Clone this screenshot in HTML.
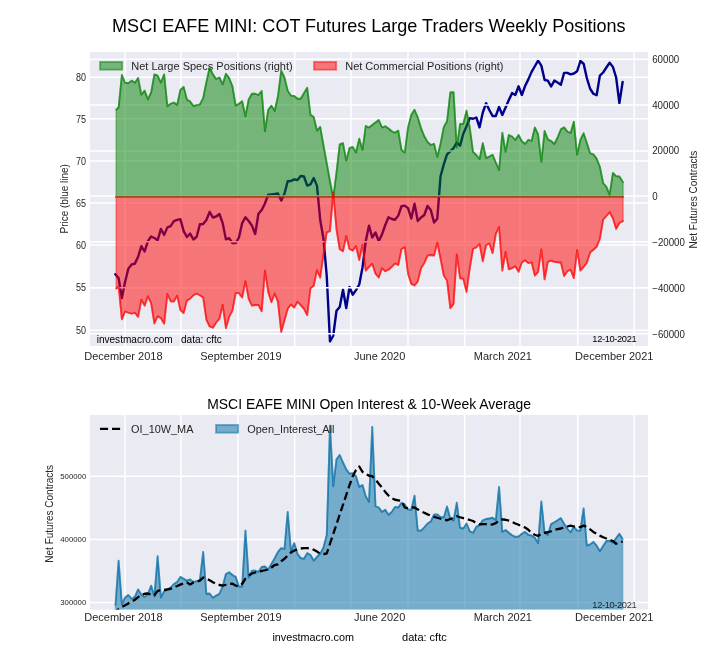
<!DOCTYPE html>
<html lang="en"><head><meta charset="utf-8"><title>MSCI EAFE MINI: COT Futures Large Traders Weekly Positions</title>
<style>html,body{margin:0;padding:0;background:#fff}body{width:720px;height:660px;overflow:hidden}svg{display:block}text{font-family:"Liberation Sans",Arial,Helvetica,sans-serif;fill:#262626}.k{fill:#000}</style>
</head><body>
<svg width="720" height="660" viewBox="0 0 720 660">
<defs><clipPath id="c1"><rect x="90" y="52" width="558" height="294"/></clipPath><clipPath id="c2"><rect x="90" y="415" width="558" height="194.6"/></clipPath></defs>
<rect width="720" height="660" fill="#fff"/>
<text class="k" x="368.8" y="32.3" font-size="18.05" text-anchor="middle">MSCI EAFE MINI: COT Futures Large Traders Weekly Positions</text>
<rect x="90" y="52" width="558" height="294" fill="#EAEAF2"/>
<g clip-path="url(#c1)">
<g stroke="#fff" stroke-width="1.5" fill="none">
<line x1="125.1" y1="52" x2="125.1" y2="346"/>
<line x1="180.9" y1="52" x2="180.9" y2="346"/>
<line x1="238" y1="52" x2="238" y2="346"/>
<line x1="294.7" y1="52" x2="294.7" y2="346"/>
<line x1="350.9" y1="52" x2="350.9" y2="346"/>
<line x1="408" y1="52" x2="408" y2="346"/>
<line x1="464.8" y1="52" x2="464.8" y2="346"/>
<line x1="520" y1="52" x2="520" y2="346"/>
<line x1="577.7" y1="52" x2="577.7" y2="346"/>
<line x1="634.2" y1="52" x2="634.2" y2="346"/>
<line x1="90" y1="77.3" x2="648" y2="77.3"/>
<line x1="90" y1="118.8" x2="648" y2="118.8"/>
<line x1="90" y1="161.1" x2="648" y2="161.1"/>
<line x1="90" y1="203.1" x2="648" y2="203.1"/>
<line x1="90" y1="245" x2="648" y2="245"/>
<line x1="90" y1="287.7" x2="648" y2="287.7"/>
<line x1="90" y1="330.2" x2="648" y2="330.2"/>
</g>
<polyline points="115.36,274.25 118.61,278.25 121.86,298 125.12,281.75 128.37,268.62 131.62,264.5 134.87,263.62 138.12,256.75 141.37,246.12 144.63,251.5 147.88,241.12 151.13,236.5 154.38,238 157.63,240.25 160.89,229 164.14,234.88 167.39,227.38 170.64,226.12 173.89,221.12 177.14,219.88 180.4,219.25 183.65,231.12 186.9,237 190.15,233.62 193.4,239.5 196.66,236.75 199.91,224.25 203.16,224 206.41,220 209.66,211.88 212.91,217.5 216.17,216.5 219.42,214 222.67,223.12 225.92,239.38 229.17,238.12 232.42,243.12 235.68,243.12 238.93,237.5 242.18,223.12 245.43,217.25 248.68,221 251.94,225.62 255.19,234 258.44,213.75 261.69,210 264.94,203.5 268.19,194.75 271.45,194.38 274.7,194 277.95,193.5 281.2,200.62 284.45,193.75 287.71,181.25 290.96,181 294.21,179.38 297.46,180 300.71,176 303.96,176.5 307.22,185.62 310.47,184.38 313.72,178.12 316.97,185.62 320.22,220 323.48,238.75 326.73,275.75 329.98,341.38 333.23,335.75 336.48,310.75 339.73,307 342.99,289.75 346.24,308 349.49,287 352.74,294.75 355.99,290.12 359.25,284.5 362.5,267.5 365.75,241.25 369,225.62 372.25,237.5 375.5,232.5 378.76,241.25 382.01,234.38 385.26,225 388.51,217.25 391.76,219 395.01,219.75 398.27,215.62 401.52,206.25 404.77,205.62 408.02,208.12 411.27,218.5 414.53,203.75 417.78,221 421.03,217.5 424.28,215 427.53,206 430.78,210 434.04,222.5 437.29,218.75 440.54,176.25 443.79,164.38 447.04,154.38 450.3,151.25 453.55,148.12 456.8,142.5 460.05,145.62 463.3,133.75 466.55,126.25 469.81,118.12 473.06,118.75 476.31,117.5 479.56,127.25 482.81,112.5 486.07,103.12 489.32,110 492.57,116 495.82,116 499.07,106.88 502.32,115 505.58,107.5 508.83,100 512.08,93.12 515.33,95 518.58,86.25 521.83,95 525.09,86 528.34,79.38 531.59,71.88 534.84,66.25 538.09,60.62 541.35,65.62 544.6,80 547.85,80.62 551.1,86.5 554.35,80.62 557.6,82.5 560.86,84.75 564.11,72.88 567.36,72.88 570.61,74.38 573.86,73.5 577.12,71.25 580.37,61 583.62,63.75 586.87,78.12 590.12,88.75 593.37,93.75 596.63,95.25 599.88,75.62 603.13,72.5 606.38,67.5 609.63,62.75 612.89,66.88 616.14,77.5 619.39,103.12 622.64,82" fill="none" stroke="#00008B" stroke-width="2.4" stroke-linejoin="round" stroke-linecap="round"/>
<g stroke="#fff" stroke-width="1.5" fill="none">
<line x1="90" y1="59.2" x2="648" y2="59.2"/>
<line x1="90" y1="105" x2="648" y2="105"/>
<line x1="90" y1="151" x2="648" y2="151"/>
<line x1="90" y1="195.9" x2="648" y2="195.9"/>
<line x1="90" y1="241.8" x2="648" y2="241.8"/>
<line x1="90" y1="287.7" x2="648" y2="287.7"/>
<line x1="90" y1="333.8" x2="648" y2="333.8"/>
</g>
</g>
<rect x="100" y="61.9" width="22.2" height="7.8" fill="#008000" fill-opacity="0.5" stroke="#008000" stroke-opacity="0.5" stroke-width="1.8"/>
<text x="131.3" y="69.6" font-size="11">Net Large Specs Positions (right)</text>
<rect x="314" y="61.9" width="22.2" height="7.8" fill="#ff0000" fill-opacity="0.5" stroke="#ff0000" stroke-opacity="0.5" stroke-width="1.8"/>
<text x="345.2" y="69.6" font-size="11">Net Commercial Positions (right)</text>
<g clip-path="url(#c1)">
<polyline points="116.1,109.75 118.61,107.5 121.86,75 125.12,82.75 128.37,83.12 131.62,80.62 134.87,82.75 138.12,77.88 141.37,94.75 144.63,90.62 147.88,99.38 151.13,92.5 154.38,74.38 157.63,75.62 160.89,82.75 164.14,74.38 167.39,106.25 170.64,103.75 173.89,102.5 177.14,105 180.4,90 183.65,86.88 186.9,99.38 190.15,101.5 193.4,106 196.66,105.25 199.91,104.38 203.16,98.12 206.41,81.88 209.66,67.5 212.91,74.38 216.17,79 219.42,77.5 222.67,84.38 225.92,73.75 229.17,78.12 232.42,86.25 235.68,105.62 238.93,103.75 242.18,101.25 245.43,116.25 248.68,99.38 251.94,93.75 255.19,93.75 258.44,95 261.69,91 264.94,131.25 268.19,110 271.45,105.62 274.7,111 277.95,96.25 281.2,70.62 284.45,77.5 287.71,90.62 290.96,95.62 294.21,96 297.46,98.75 300.71,98.75 303.96,93.12 307.22,87.75 310.47,114.75 313.72,116.88 316.97,130.62 320.22,126.88 323.48,145.25 326.73,163.12 329.98,181.25 333.23,198 336.48,172.5 339.73,144.38 342.99,143.12 346.24,160.62 349.49,148.12 352.74,146.88 355.99,152.5 359.25,138.75 362.5,150 365.75,126 369,127.5 372.25,125 375.5,122.5 378.76,120 382.01,127.5 385.26,126.25 388.51,128.5 391.76,131.25 395.01,132.75 398.27,130.62 401.52,150 404.77,152.5 408.02,127.5 411.27,115 414.53,109.75 417.78,117.5 421.03,128.12 424.28,136.25 427.53,141.88 430.78,145 434.04,143.75 437.29,156.88 440.54,143.75 443.79,126.88 447.04,121.25 450.3,92.5 453.55,92.25 456.8,147.5 460.05,124 463.3,123.75 466.55,110.62 469.81,128 473.06,151.88 476.31,155 479.56,159 482.81,143.12 486.07,158.12 489.32,156.5 492.57,154.75 495.82,162.5 499.07,170 502.32,132.75 505.58,151.88 508.83,135 512.08,136.5 515.33,140 518.58,135 521.83,141.25 525.09,144 528.34,139.75 531.59,141 534.84,127.5 538.09,134.38 541.35,161.88 544.6,131 547.85,139.38 551.1,141 554.35,144 557.6,137.5 560.86,129.38 564.11,127.38 567.36,131.5 570.61,133 573.86,121.75 577.12,154.88 580.37,139.88 583.62,133.25 586.87,143 590.12,153.25 593.37,154.25 596.63,158.62 599.88,166.75 603.13,183 606.38,186.75 609.63,194.88 612.89,173 616.14,176.12 619.39,176.5 623.15,182.38" fill="none" stroke="#008000" stroke-opacity="0.5" stroke-width="1.8" stroke-linejoin="round" stroke-linecap="round"/>
<polygon points="116.1,109.75 118.61,107.5 121.86,75 125.12,82.75 128.37,83.12 131.62,80.62 134.87,82.75 138.12,77.88 141.37,94.75 144.63,90.62 147.88,99.38 151.13,92.5 154.38,74.38 157.63,75.62 160.89,82.75 164.14,74.38 167.39,106.25 170.64,103.75 173.89,102.5 177.14,105 180.4,90 183.65,86.88 186.9,99.38 190.15,101.5 193.4,106 196.66,105.25 199.91,104.38 203.16,98.12 206.41,81.88 209.66,67.5 212.91,74.38 216.17,79 219.42,77.5 222.67,84.38 225.92,73.75 229.17,78.12 232.42,86.25 235.68,105.62 238.93,103.75 242.18,101.25 245.43,116.25 248.68,99.38 251.94,93.75 255.19,93.75 258.44,95 261.69,91 264.94,131.25 268.19,110 271.45,105.62 274.7,111 277.95,96.25 281.2,70.62 284.45,77.5 287.71,90.62 290.96,95.62 294.21,96 297.46,98.75 300.71,98.75 303.96,93.12 307.22,87.75 310.47,114.75 313.72,116.88 316.97,130.62 320.22,126.88 323.48,145.25 326.73,163.12 329.98,181.25 333.23,198 336.48,172.5 339.73,144.38 342.99,143.12 346.24,160.62 349.49,148.12 352.74,146.88 355.99,152.5 359.25,138.75 362.5,150 365.75,126 369,127.5 372.25,125 375.5,122.5 378.76,120 382.01,127.5 385.26,126.25 388.51,128.5 391.76,131.25 395.01,132.75 398.27,130.62 401.52,150 404.77,152.5 408.02,127.5 411.27,115 414.53,109.75 417.78,117.5 421.03,128.12 424.28,136.25 427.53,141.88 430.78,145 434.04,143.75 437.29,156.88 440.54,143.75 443.79,126.88 447.04,121.25 450.3,92.5 453.55,92.25 456.8,147.5 460.05,124 463.3,123.75 466.55,110.62 469.81,128 473.06,151.88 476.31,155 479.56,159 482.81,143.12 486.07,158.12 489.32,156.5 492.57,154.75 495.82,162.5 499.07,170 502.32,132.75 505.58,151.88 508.83,135 512.08,136.5 515.33,140 518.58,135 521.83,141.25 525.09,144 528.34,139.75 531.59,141 534.84,127.5 538.09,134.38 541.35,161.88 544.6,131 547.85,139.38 551.1,141 554.35,144 557.6,137.5 560.86,129.38 564.11,127.38 567.36,131.5 570.61,133 573.86,121.75 577.12,154.88 580.37,139.88 583.62,133.25 586.87,143 590.12,153.25 593.37,154.25 596.63,158.62 599.88,166.75 603.13,183 606.38,186.75 609.63,194.88 612.89,173 616.14,176.12 619.39,176.5 623.15,182.38 623.15,196.9 116.1,196.9" fill="#008000" fill-opacity="0.5"/>
<polyline points="116.1,109.75 118.61,107.5 121.86,75 125.12,82.75 128.37,83.12 131.62,80.62 134.87,82.75 138.12,77.88 141.37,94.75 144.63,90.62 147.88,99.38 151.13,92.5 154.38,74.38 157.63,75.62 160.89,82.75 164.14,74.38 167.39,106.25 170.64,103.75 173.89,102.5 177.14,105 180.4,90 183.65,86.88 186.9,99.38 190.15,101.5 193.4,106 196.66,105.25 199.91,104.38 203.16,98.12 206.41,81.88 209.66,67.5 212.91,74.38 216.17,79 219.42,77.5 222.67,84.38 225.92,73.75 229.17,78.12 232.42,86.25 235.68,105.62 238.93,103.75 242.18,101.25 245.43,116.25 248.68,99.38 251.94,93.75 255.19,93.75 258.44,95 261.69,91 264.94,131.25 268.19,110 271.45,105.62 274.7,111 277.95,96.25 281.2,70.62 284.45,77.5 287.71,90.62 290.96,95.62 294.21,96 297.46,98.75 300.71,98.75 303.96,93.12 307.22,87.75 310.47,114.75 313.72,116.88 316.97,130.62 320.22,126.88 323.48,145.25 326.73,163.12 329.98,181.25 333.23,198 336.48,172.5 339.73,144.38 342.99,143.12 346.24,160.62 349.49,148.12 352.74,146.88 355.99,152.5 359.25,138.75 362.5,150 365.75,126 369,127.5 372.25,125 375.5,122.5 378.76,120 382.01,127.5 385.26,126.25 388.51,128.5 391.76,131.25 395.01,132.75 398.27,130.62 401.52,150 404.77,152.5 408.02,127.5 411.27,115 414.53,109.75 417.78,117.5 421.03,128.12 424.28,136.25 427.53,141.88 430.78,145 434.04,143.75 437.29,156.88 440.54,143.75 443.79,126.88 447.04,121.25 450.3,92.5 453.55,92.25 456.8,147.5 460.05,124 463.3,123.75 466.55,110.62 469.81,128 473.06,151.88 476.31,155 479.56,159 482.81,143.12 486.07,158.12 489.32,156.5 492.57,154.75 495.82,162.5 499.07,170 502.32,132.75 505.58,151.88 508.83,135 512.08,136.5 515.33,140 518.58,135 521.83,141.25 525.09,144 528.34,139.75 531.59,141 534.84,127.5 538.09,134.38 541.35,161.88 544.6,131 547.85,139.38 551.1,141 554.35,144 557.6,137.5 560.86,129.38 564.11,127.38 567.36,131.5 570.61,133 573.86,121.75 577.12,154.88 580.37,139.88 583.62,133.25 586.87,143 590.12,153.25 593.37,154.25 596.63,158.62 599.88,166.75 603.13,183 606.38,186.75 609.63,194.88 612.89,173 616.14,176.12 619.39,176.5 623.15,182.38" fill="none" stroke="#008000" stroke-opacity="0.5" stroke-width="1.8" stroke-linejoin="round" stroke-linecap="butt"/>
<path d="M116.1 109.75V196.9M623.15 182.38V196.9" fill="none" stroke="#008000" stroke-opacity="0.3" stroke-width="1.8"/>
<line x1="116.1" y1="196.9" x2="623.15" y2="196.9" stroke="#008000" stroke-opacity="0.5" stroke-width="1.8" stroke-linecap="square"/>
<polyline points="116.1,288.75 118.61,286.5 121.86,319.38 125.12,311.5 128.37,312.75 131.62,313.75 134.87,312.75 138.12,316.88 141.37,299.75 144.63,305.62 147.88,296.25 151.13,303.12 154.38,323.5 157.63,316.25 160.89,318.12 164.14,323.75 167.39,294 170.64,301.25 173.89,301.5 177.14,295.62 180.4,310 183.65,313.12 186.9,300.62 190.15,298.75 193.4,295.25 196.66,293.75 199.91,295.25 203.16,297.5 206.41,319.75 209.66,326.5 212.91,327.75 216.17,322.5 219.42,318.75 222.67,304.75 225.92,328.12 229.17,316.88 232.42,310.62 235.68,293.12 238.93,293.12 242.18,297.5 245.43,281.25 248.68,298.75 251.94,305.62 255.19,305 258.44,305 261.69,311.25 264.94,270.62 268.19,291.88 271.45,302.25 274.7,293.5 277.95,301.88 281.2,331.88 284.45,320.62 287.71,308.75 290.96,304.5 294.21,307.62 297.46,301.75 300.71,305.12 303.96,308.88 307.22,315.12 310.47,288.25 313.72,285.75 316.97,270.12 320.22,277.62 323.48,254.25 326.73,232.38 329.98,231.12 333.23,192.38 336.48,229.25 339.73,249.25 342.99,251.25 346.24,236 349.49,249 352.74,250.62 355.99,246 359.25,260 362.5,244.75 365.75,270.62 369,266.88 372.25,263.75 375.5,273.75 378.76,277.5 382.01,268.12 385.26,271.25 388.51,269.75 391.76,266.88 395.01,263.5 398.27,265 401.52,249 404.77,247.25 408.02,273.75 411.27,283.88 414.53,285.5 417.78,281.38 421.03,268.25 424.28,263.12 427.53,255.62 430.78,255 434.04,255.62 437.29,242.5 440.54,258.75 443.79,275.62 447.04,280.62 450.3,308.25 453.55,303.88 456.8,254.38 460.05,278.25 463.3,278.88 466.55,292 469.81,268 473.06,248.75 476.31,247.5 479.56,244 482.81,261.25 486.07,245.25 489.32,243.5 492.57,253.12 495.82,233.75 499.07,226.88 502.32,270.62 505.58,251.88 508.83,269.38 512.08,268.12 515.33,266.25 518.58,271.88 521.83,262.5 525.09,260.25 528.34,263.12 531.59,262.25 534.84,275.62 538.09,271.88 541.35,249.38 544.6,279.38 547.85,261.88 551.1,260.62 554.35,261.88 557.6,262.25 560.86,262.5 564.11,276 567.36,271.25 570.61,269.75 573.86,278.12 577.12,250 580.37,270.62 583.62,266.88 586.87,262.75 590.12,252.5 593.37,249.75 596.63,246.88 599.88,238.75 603.13,219.75 606.38,216 609.63,212.25 612.89,218.25 616.14,228.88 619.39,223 623.15,221" fill="none" stroke="#ff0000" stroke-opacity="0.5" stroke-width="1.8" stroke-linejoin="round" stroke-linecap="round"/>
<polygon points="116.1,288.75 118.61,286.5 121.86,319.38 125.12,311.5 128.37,312.75 131.62,313.75 134.87,312.75 138.12,316.88 141.37,299.75 144.63,305.62 147.88,296.25 151.13,303.12 154.38,323.5 157.63,316.25 160.89,318.12 164.14,323.75 167.39,294 170.64,301.25 173.89,301.5 177.14,295.62 180.4,310 183.65,313.12 186.9,300.62 190.15,298.75 193.4,295.25 196.66,293.75 199.91,295.25 203.16,297.5 206.41,319.75 209.66,326.5 212.91,327.75 216.17,322.5 219.42,318.75 222.67,304.75 225.92,328.12 229.17,316.88 232.42,310.62 235.68,293.12 238.93,293.12 242.18,297.5 245.43,281.25 248.68,298.75 251.94,305.62 255.19,305 258.44,305 261.69,311.25 264.94,270.62 268.19,291.88 271.45,302.25 274.7,293.5 277.95,301.88 281.2,331.88 284.45,320.62 287.71,308.75 290.96,304.5 294.21,307.62 297.46,301.75 300.71,305.12 303.96,308.88 307.22,315.12 310.47,288.25 313.72,285.75 316.97,270.12 320.22,277.62 323.48,254.25 326.73,232.38 329.98,231.12 333.23,192.38 336.48,229.25 339.73,249.25 342.99,251.25 346.24,236 349.49,249 352.74,250.62 355.99,246 359.25,260 362.5,244.75 365.75,270.62 369,266.88 372.25,263.75 375.5,273.75 378.76,277.5 382.01,268.12 385.26,271.25 388.51,269.75 391.76,266.88 395.01,263.5 398.27,265 401.52,249 404.77,247.25 408.02,273.75 411.27,283.88 414.53,285.5 417.78,281.38 421.03,268.25 424.28,263.12 427.53,255.62 430.78,255 434.04,255.62 437.29,242.5 440.54,258.75 443.79,275.62 447.04,280.62 450.3,308.25 453.55,303.88 456.8,254.38 460.05,278.25 463.3,278.88 466.55,292 469.81,268 473.06,248.75 476.31,247.5 479.56,244 482.81,261.25 486.07,245.25 489.32,243.5 492.57,253.12 495.82,233.75 499.07,226.88 502.32,270.62 505.58,251.88 508.83,269.38 512.08,268.12 515.33,266.25 518.58,271.88 521.83,262.5 525.09,260.25 528.34,263.12 531.59,262.25 534.84,275.62 538.09,271.88 541.35,249.38 544.6,279.38 547.85,261.88 551.1,260.62 554.35,261.88 557.6,262.25 560.86,262.5 564.11,276 567.36,271.25 570.61,269.75 573.86,278.12 577.12,250 580.37,270.62 583.62,266.88 586.87,262.75 590.12,252.5 593.37,249.75 596.63,246.88 599.88,238.75 603.13,219.75 606.38,216 609.63,212.25 612.89,218.25 616.14,228.88 619.39,223 623.15,221 623.15,196.9 116.1,196.9" fill="#ff0000" fill-opacity="0.5"/>
<polyline points="116.1,288.75 118.61,286.5 121.86,319.38 125.12,311.5 128.37,312.75 131.62,313.75 134.87,312.75 138.12,316.88 141.37,299.75 144.63,305.62 147.88,296.25 151.13,303.12 154.38,323.5 157.63,316.25 160.89,318.12 164.14,323.75 167.39,294 170.64,301.25 173.89,301.5 177.14,295.62 180.4,310 183.65,313.12 186.9,300.62 190.15,298.75 193.4,295.25 196.66,293.75 199.91,295.25 203.16,297.5 206.41,319.75 209.66,326.5 212.91,327.75 216.17,322.5 219.42,318.75 222.67,304.75 225.92,328.12 229.17,316.88 232.42,310.62 235.68,293.12 238.93,293.12 242.18,297.5 245.43,281.25 248.68,298.75 251.94,305.62 255.19,305 258.44,305 261.69,311.25 264.94,270.62 268.19,291.88 271.45,302.25 274.7,293.5 277.95,301.88 281.2,331.88 284.45,320.62 287.71,308.75 290.96,304.5 294.21,307.62 297.46,301.75 300.71,305.12 303.96,308.88 307.22,315.12 310.47,288.25 313.72,285.75 316.97,270.12 320.22,277.62 323.48,254.25 326.73,232.38 329.98,231.12 333.23,192.38 336.48,229.25 339.73,249.25 342.99,251.25 346.24,236 349.49,249 352.74,250.62 355.99,246 359.25,260 362.5,244.75 365.75,270.62 369,266.88 372.25,263.75 375.5,273.75 378.76,277.5 382.01,268.12 385.26,271.25 388.51,269.75 391.76,266.88 395.01,263.5 398.27,265 401.52,249 404.77,247.25 408.02,273.75 411.27,283.88 414.53,285.5 417.78,281.38 421.03,268.25 424.28,263.12 427.53,255.62 430.78,255 434.04,255.62 437.29,242.5 440.54,258.75 443.79,275.62 447.04,280.62 450.3,308.25 453.55,303.88 456.8,254.38 460.05,278.25 463.3,278.88 466.55,292 469.81,268 473.06,248.75 476.31,247.5 479.56,244 482.81,261.25 486.07,245.25 489.32,243.5 492.57,253.12 495.82,233.75 499.07,226.88 502.32,270.62 505.58,251.88 508.83,269.38 512.08,268.12 515.33,266.25 518.58,271.88 521.83,262.5 525.09,260.25 528.34,263.12 531.59,262.25 534.84,275.62 538.09,271.88 541.35,249.38 544.6,279.38 547.85,261.88 551.1,260.62 554.35,261.88 557.6,262.25 560.86,262.5 564.11,276 567.36,271.25 570.61,269.75 573.86,278.12 577.12,250 580.37,270.62 583.62,266.88 586.87,262.75 590.12,252.5 593.37,249.75 596.63,246.88 599.88,238.75 603.13,219.75 606.38,216 609.63,212.25 612.89,218.25 616.14,228.88 619.39,223 623.15,221" fill="none" stroke="#ff0000" stroke-opacity="0.5" stroke-width="1.8" stroke-linejoin="round" stroke-linecap="butt"/>
<path d="M116.1 288.75V196.9M623.15 221V196.9" fill="none" stroke="#ff0000" stroke-opacity="0.3" stroke-width="1.8"/>
<line x1="116.1" y1="196.9" x2="623.15" y2="196.9" stroke="#ff0000" stroke-opacity="0.5" stroke-width="1.8" stroke-linecap="square"/>
</g>
<text class="k" x="96.7" y="342.8" font-size="10.05" xml:space="preserve" style="white-space:pre">investmacro.com   data: cftc</text>
<text class="k" x="636.3" y="341.8" font-size="9.3" letter-spacing="-0.36" text-anchor="end">12-10-2021</text>
<text transform="translate(85.9,81) scale(0.9,1)" font-size="10" text-anchor="end">80</text>
<text transform="translate(85.9,122.5) scale(0.9,1)" font-size="10" text-anchor="end">75</text>
<text transform="translate(85.9,164.8) scale(0.9,1)" font-size="10" text-anchor="end">70</text>
<text transform="translate(85.9,206.8) scale(0.9,1)" font-size="10" text-anchor="end">65</text>
<text transform="translate(85.9,248.7) scale(0.9,1)" font-size="10" text-anchor="end">60</text>
<text transform="translate(85.9,291.4) scale(0.9,1)" font-size="10" text-anchor="end">55</text>
<text transform="translate(85.9,333.9) scale(0.9,1)" font-size="10" text-anchor="end">50</text>
<text transform="translate(652.2,62.6) scale(0.965,1)" font-size="10.1">60000</text>
<text transform="translate(652.2,108.5) scale(0.965,1)" font-size="10.1">40000</text>
<text transform="translate(652.2,154.4) scale(0.965,1)" font-size="10.1">20000</text>
<text transform="translate(652.2,200.3) scale(0.965,1)" font-size="10.1">0</text>
<text transform="translate(652.2,246.2) scale(0.965,1)" font-size="10.1">−20000</text>
<text transform="translate(652.2,292.1) scale(0.965,1)" font-size="10.1">−40000</text>
<text transform="translate(652.2,338) scale(0.965,1)" font-size="10.1">−60000</text>
<text x="123.4" y="360" font-size="11" text-anchor="middle">December 2018</text>
<text x="240.9" y="360" font-size="11" text-anchor="middle">September 2019</text>
<text x="379.6" y="360" font-size="11" text-anchor="middle">June 2020</text>
<text x="502.9" y="360" font-size="11" text-anchor="middle">March 2021</text>
<text x="614.25" y="360" font-size="11" text-anchor="middle">December 2021</text>
<text transform="translate(68.2,198.8) rotate(-90)" font-size="10" text-anchor="middle">Price (blue line)</text>
<text transform="translate(696.8,199.6) rotate(-90)" font-size="10" text-anchor="middle">Net Futures Contracts</text>
<text class="k" x="369.1" y="409.3" font-size="13.93" text-anchor="middle">MSCI EAFE MINI Open Interest &amp; 10-Week Average</text>
<rect x="90" y="415" width="558" height="194.6" fill="#EAEAF2"/>
<g clip-path="url(#c2)">
<g stroke="#fff" stroke-width="1.5" fill="none">
<line x1="125.1" y1="415" x2="125.1" y2="609.6"/>
<line x1="180.9" y1="415" x2="180.9" y2="609.6"/>
<line x1="238" y1="415" x2="238" y2="609.6"/>
<line x1="294.7" y1="415" x2="294.7" y2="609.6"/>
<line x1="350.9" y1="415" x2="350.9" y2="609.6"/>
<line x1="408" y1="415" x2="408" y2="609.6"/>
<line x1="464.8" y1="415" x2="464.8" y2="609.6"/>
<line x1="520" y1="415" x2="520" y2="609.6"/>
<line x1="577.7" y1="415" x2="577.7" y2="609.6"/>
<line x1="634.2" y1="415" x2="634.2" y2="609.6"/>
<line x1="90" y1="476.3" x2="648" y2="476.3"/>
<line x1="90" y1="539.4" x2="648" y2="539.4"/>
<line x1="90" y1="602.6" x2="648" y2="602.6"/>
</g>
<polyline points="115.5,605 118.61,560.62 121.86,604.38 125.12,597.5 128.37,595 131.62,598.75 134.87,596.88 138.12,589.38 141.37,594.75 144.63,596.88 147.88,594.38 151.13,585.62 154.38,596.25 157.63,556.25 160.89,597.5 164.14,591.25 167.39,590 170.64,587.5 173.89,584 177.14,581.88 180.4,576.88 183.65,578.75 186.9,580.62 190.15,579.38 193.4,581.88 196.66,581.25 199.91,579.75 203.16,551.88 206.41,594 209.66,593.5 212.91,597.75 216.17,595.62 219.42,593.75 222.67,586.25 225.92,574 229.17,572.25 232.42,575 235.68,576.88 238.93,586.5 242.18,586.5 245.43,530.6 248.68,577.5 251.94,570.62 255.19,570.62 258.44,571.88 261.69,566.88 264.94,566.5 268.19,569.75 271.45,563.75 274.7,558.12 277.95,551.88 281.2,548.12 284.45,549 287.71,511.88 290.96,551.25 294.21,543.12 297.46,553.75 300.71,558.12 303.96,558.75 307.22,553.12 310.47,555 313.72,560.62 316.97,556.88 320.22,553.75 323.48,547.5 326.73,535 329.98,425.62 333.23,486.25 336.48,459.38 339.73,455 342.99,462.5 346.24,469.38 349.49,473.75 352.74,473.12 355.99,476.25 359.25,486.88 362.5,485 365.75,496.25 369,501.88 372.25,426.9 375.5,506.25 378.76,507.5 382.01,511.88 385.26,509.75 388.51,514.75 391.76,511.88 395.01,506.88 398.27,507.5 401.52,502.75 404.77,504.38 408.02,509.38 411.27,510 414.53,495.62 417.78,530.62 421.03,530.62 424.28,527.25 427.53,523.5 430.78,521.5 434.04,514.75 437.29,514.38 440.54,516.88 443.79,517.5 447.04,506.5 450.3,518.75 453.55,520.62 456.8,502.75 460.05,527.75 463.3,528.5 466.55,523.5 469.81,531.25 473.06,532.75 476.31,526.88 479.56,525 482.81,520.25 486.07,519 489.32,518.5 492.57,517.75 495.82,520 499.07,486.88 502.32,531.88 505.58,530 508.83,532.75 512.08,535.25 515.33,536.88 518.58,536.5 521.83,533.75 525.09,531.88 528.34,534.75 531.59,535.62 534.84,537.75 538.09,543.12 541.35,501.5 544.6,532.75 547.85,535 551.1,524 554.35,522.25 557.6,520.25 560.86,518.12 564.11,523.75 567.36,528.75 570.61,532.25 573.86,526.88 577.12,530.62 580.37,530.62 583.62,508.5 586.87,545.62 590.12,544.38 593.37,541.88 596.63,545.62 599.88,551.25 603.13,546 606.38,541 609.63,540.62 612.89,542.5 616.14,538.12 619.39,533.75 622.6,539" fill="none" stroke="#006BA4" stroke-opacity="0.5" stroke-width="1.8" stroke-linejoin="round" stroke-linecap="round"/>
<polygon points="115.5,605 118.61,560.62 121.86,604.38 125.12,597.5 128.37,595 131.62,598.75 134.87,596.88 138.12,589.38 141.37,594.75 144.63,596.88 147.88,594.38 151.13,585.62 154.38,596.25 157.63,556.25 160.89,597.5 164.14,591.25 167.39,590 170.64,587.5 173.89,584 177.14,581.88 180.4,576.88 183.65,578.75 186.9,580.62 190.15,579.38 193.4,581.88 196.66,581.25 199.91,579.75 203.16,551.88 206.41,594 209.66,593.5 212.91,597.75 216.17,595.62 219.42,593.75 222.67,586.25 225.92,574 229.17,572.25 232.42,575 235.68,576.88 238.93,586.5 242.18,586.5 245.43,530.6 248.68,577.5 251.94,570.62 255.19,570.62 258.44,571.88 261.69,566.88 264.94,566.5 268.19,569.75 271.45,563.75 274.7,558.12 277.95,551.88 281.2,548.12 284.45,549 287.71,511.88 290.96,551.25 294.21,543.12 297.46,553.75 300.71,558.12 303.96,558.75 307.22,553.12 310.47,555 313.72,560.62 316.97,556.88 320.22,553.75 323.48,547.5 326.73,535 329.98,425.62 333.23,486.25 336.48,459.38 339.73,455 342.99,462.5 346.24,469.38 349.49,473.75 352.74,473.12 355.99,476.25 359.25,486.88 362.5,485 365.75,496.25 369,501.88 372.25,426.9 375.5,506.25 378.76,507.5 382.01,511.88 385.26,509.75 388.51,514.75 391.76,511.88 395.01,506.88 398.27,507.5 401.52,502.75 404.77,504.38 408.02,509.38 411.27,510 414.53,495.62 417.78,530.62 421.03,530.62 424.28,527.25 427.53,523.5 430.78,521.5 434.04,514.75 437.29,514.38 440.54,516.88 443.79,517.5 447.04,506.5 450.3,518.75 453.55,520.62 456.8,502.75 460.05,527.75 463.3,528.5 466.55,523.5 469.81,531.25 473.06,532.75 476.31,526.88 479.56,525 482.81,520.25 486.07,519 489.32,518.5 492.57,517.75 495.82,520 499.07,486.88 502.32,531.88 505.58,530 508.83,532.75 512.08,535.25 515.33,536.88 518.58,536.5 521.83,533.75 525.09,531.88 528.34,534.75 531.59,535.62 534.84,537.75 538.09,543.12 541.35,501.5 544.6,532.75 547.85,535 551.1,524 554.35,522.25 557.6,520.25 560.86,518.12 564.11,523.75 567.36,528.75 570.61,532.25 573.86,526.88 577.12,530.62 580.37,530.62 583.62,508.5 586.87,545.62 590.12,544.38 593.37,541.88 596.63,545.62 599.88,551.25 603.13,546 606.38,541 609.63,540.62 612.89,542.5 616.14,538.12 619.39,533.75 622.6,539 622.6,629.6 115.5,629.6" fill="#006BA4" fill-opacity="0.5"/>
<polyline points="115.5,605 118.61,560.62 121.86,604.38 125.12,597.5 128.37,595 131.62,598.75 134.87,596.88 138.12,589.38 141.37,594.75 144.63,596.88 147.88,594.38 151.13,585.62 154.38,596.25 157.63,556.25 160.89,597.5 164.14,591.25 167.39,590 170.64,587.5 173.89,584 177.14,581.88 180.4,576.88 183.65,578.75 186.9,580.62 190.15,579.38 193.4,581.88 196.66,581.25 199.91,579.75 203.16,551.88 206.41,594 209.66,593.5 212.91,597.75 216.17,595.62 219.42,593.75 222.67,586.25 225.92,574 229.17,572.25 232.42,575 235.68,576.88 238.93,586.5 242.18,586.5 245.43,530.6 248.68,577.5 251.94,570.62 255.19,570.62 258.44,571.88 261.69,566.88 264.94,566.5 268.19,569.75 271.45,563.75 274.7,558.12 277.95,551.88 281.2,548.12 284.45,549 287.71,511.88 290.96,551.25 294.21,543.12 297.46,553.75 300.71,558.12 303.96,558.75 307.22,553.12 310.47,555 313.72,560.62 316.97,556.88 320.22,553.75 323.48,547.5 326.73,535 329.98,425.62 333.23,486.25 336.48,459.38 339.73,455 342.99,462.5 346.24,469.38 349.49,473.75 352.74,473.12 355.99,476.25 359.25,486.88 362.5,485 365.75,496.25 369,501.88 372.25,426.9 375.5,506.25 378.76,507.5 382.01,511.88 385.26,509.75 388.51,514.75 391.76,511.88 395.01,506.88 398.27,507.5 401.52,502.75 404.77,504.38 408.02,509.38 411.27,510 414.53,495.62 417.78,530.62 421.03,530.62 424.28,527.25 427.53,523.5 430.78,521.5 434.04,514.75 437.29,514.38 440.54,516.88 443.79,517.5 447.04,506.5 450.3,518.75 453.55,520.62 456.8,502.75 460.05,527.75 463.3,528.5 466.55,523.5 469.81,531.25 473.06,532.75 476.31,526.88 479.56,525 482.81,520.25 486.07,519 489.32,518.5 492.57,517.75 495.82,520 499.07,486.88 502.32,531.88 505.58,530 508.83,532.75 512.08,535.25 515.33,536.88 518.58,536.5 521.83,533.75 525.09,531.88 528.34,534.75 531.59,535.62 534.84,537.75 538.09,543.12 541.35,501.5 544.6,532.75 547.85,535 551.1,524 554.35,522.25 557.6,520.25 560.86,518.12 564.11,523.75 567.36,528.75 570.61,532.25 573.86,526.88 577.12,530.62 580.37,530.62 583.62,508.5 586.87,545.62 590.12,544.38 593.37,541.88 596.63,545.62 599.88,551.25 603.13,546 606.38,541 609.63,540.62 612.89,542.5 616.14,538.12 619.39,533.75 622.6,539" fill="none" stroke="#006BA4" stroke-opacity="0.5" stroke-width="1.8" stroke-linejoin="round" stroke-linecap="butt"/>
<path d="M115.5 605V629.6M622.6 539V629.6" fill="none" stroke="#006BA4" stroke-opacity="0.3" stroke-width="1.8"/>
<line x1="115.5" y1="629.6" x2="622.6" y2="629.6" stroke="#006BA4" stroke-opacity="0.5" stroke-width="1.8" stroke-linecap="square"/>
<polyline points="115.36,611.5 118.61,609.12 121.86,607.12 125.12,605.25 128.37,603.38 131.62,601.75 134.87,599.75 138.12,597.12 141.37,594.75 144.63,593.75 147.88,593.5 151.13,594.75 154.38,595.25 157.63,590.88 160.89,590.38 164.14,590 167.39,589.38 170.64,588.75 173.89,587.25 177.14,586 180.4,584.62 183.65,583.5 186.9,582.5 190.15,584.38 193.4,582.5 196.66,581.88 199.91,580.62 203.16,577.5 206.41,578.75 209.66,580.25 212.91,582.25 216.17,583.75 219.42,585 222.67,585.62 225.92,584.75 229.17,583.75 232.42,583.75 235.68,585.62 238.93,586.25 242.18,583.75 245.43,578.75 248.68,575.62 251.94,573.5 255.19,572.5 258.44,571.5 261.69,571 264.94,570.25 268.19,569.38 271.45,567.5 274.7,565 277.95,564.38 281.2,561.25 284.45,558.75 287.71,555.62 290.96,552.5 294.21,550.62 297.46,549.38 300.71,548.5 303.96,548.12 307.22,548.12 310.47,548.75 313.72,549.75 316.97,551.5 320.22,553.75 323.48,554 326.73,553.5 329.98,543.75 333.23,534 336.48,524.25 339.73,514.5 342.99,504.75 346.24,495 349.49,485.25 352.74,476.25 355.99,470 359.25,466.5 362.5,471.88 365.75,474 369,475.62 372.25,476.25 375.5,479.38 378.76,483.75 382.01,487.5 385.26,491.88 388.51,495.62 391.76,498.12 395.01,499.75 398.27,500.38 401.52,501 404.77,507.5 408.02,508.5 411.27,507.5 414.53,507.5 417.78,509.38 421.03,511.25 424.28,512.75 427.53,514.38 430.78,515.62 434.04,516.88 437.29,517.75 440.54,518.75 443.79,519.75 447.04,520.25 450.3,519 453.55,517.75 456.8,516.25 460.05,517.25 463.3,518.12 466.55,519 469.81,520 473.06,521 476.31,523.12 479.56,524.38 482.81,524.12 486.07,524.12 489.32,524.75 492.57,524.38 495.82,523.12 499.07,520.25 502.32,519.38 505.58,519.75 508.83,520.62 512.08,521.88 515.33,523.5 518.58,524.75 521.83,526.25 525.09,527.5 528.34,529.75 531.59,533.12 534.84,534.75 538.09,536 541.35,533.5 544.6,532.75 547.85,532.25 551.1,531.25 554.35,530 557.6,529.12 560.86,528.5 564.11,527.25 567.36,526.5 570.61,525.62 573.86,526.5 577.12,527.12 580.37,527.12 583.62,525.62 586.87,526.88 590.12,529.38 593.37,531.88 596.63,533.75 599.88,535.62 603.13,537.25 606.38,538.5 609.63,539.75 612.89,541 616.14,543.75 619.39,542.5 622.64,541.5" fill="none" stroke="#000" stroke-width="2.3" stroke-dasharray="8.1 3.9" stroke-dashoffset="3.6" stroke-linejoin="round"/>
</g>
<text class="k" x="636.3" y="608.3" font-size="9.3" letter-spacing="-0.36" text-anchor="end" fill-opacity="0.8">12-10-2021</text>
<line x1="100" y1="428.8" x2="122.2" y2="428.8" stroke="#000" stroke-width="2.3" stroke-dasharray="8.1 3.9"/>
<text x="131.1" y="433" font-size="10.9">OI_10W_MA</text>
<rect x="216" y="424.9" width="22.2" height="7.8" fill="#006BA4" fill-opacity="0.5" stroke="#006BA4" stroke-opacity="0.5" stroke-width="1.8"/>
<text x="247.3" y="433" font-size="10.9">Open_Interest_All</text>
<text x="86.3" y="479.1" font-size="7.8" text-anchor="end">500000</text>
<text x="86.3" y="542.2" font-size="7.8" text-anchor="end">400000</text>
<text x="86.3" y="605.4" font-size="7.8" text-anchor="end">300000</text>
<text x="123.4" y="620.5" font-size="11" text-anchor="middle">December 2018</text>
<text x="240.9" y="620.5" font-size="11" text-anchor="middle">September 2019</text>
<text x="379.6" y="620.5" font-size="11" text-anchor="middle">June 2020</text>
<text x="502.9" y="620.5" font-size="11" text-anchor="middle">March 2021</text>
<text x="614.25" y="620.5" font-size="11" text-anchor="middle">December 2021</text>
<text transform="translate(53.0,513.8) rotate(-90)" font-size="10" text-anchor="middle">Net Futures Contracts</text>
<text class="k" x="272.4" y="640.5" font-size="10.8">investmacro.com</text>
<text class="k" x="402.1" y="640.5" font-size="11">data: cftc</text>
</svg></body></html>
